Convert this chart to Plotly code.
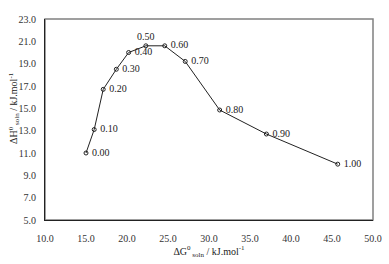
import plotly.graph_objects as go

dG = [15.0, 16.0, 17.1, 18.7, 20.2, 22.3, 24.6, 27.1, 31.3, 37.0, 45.7]
dH = [11.0, 13.1, 16.7, 18.5, 20.0, 20.6, 20.6, 19.2, 14.85, 12.7, 10.0]
labels = ["0.00", "0.10", "0.20", "0.30", "0.40", "0.50", "0.60", "0.70", "0.80", "0.90", "1.00"]
positions = ["middle right"] * 11
positions[5] = "top center"

font = "Liberation Serif, Times New Roman, serif"

fig = go.Figure()
fig.add_trace(go.Scatter(
    x=dG, y=dH, mode="lines+markers+text",
    text=[" " + l if p != "top center" else l for l, p in zip(labels, positions)],
    textposition=positions,
    textfont=dict(family=font, size=10, color="#222"),
    line=dict(color="#222", width=1),
    marker=dict(symbol="circle-open", size=4, color="#222", line=dict(width=1)),
    showlegend=False, cliponaxis=False,
))

fig.add_shape(type="rect", xref="paper", yref="paper", x0=0, y0=0, x1=1, y1=1,
              line=dict(color="#808080", width=1.5), layer="below")

fig.add_annotation(text="ΔH<sup>0</sup><sub> soln</sub> / kJ.mol<sup>-1</sup>",
                   xref="paper", yref="paper", x=-0.093, y=0.56,
                   xanchor="center", yanchor="middle", textangle=-90, showarrow=False,
                   font=dict(family=font, size=10, color="#222"))

fig.update_layout(
    width=389, height=264,
    margin=dict(l=45, r=16, t=19, b=44),
    plot_bgcolor="white", paper_bgcolor="white",
    font=dict(family=font, size=10, color="#333"),
    xaxis=dict(range=[10, 50], tick0=10, dtick=5, tickformat=".1f", showgrid=False, zeroline=False,
               showline=True, linecolor="#222", linewidth=1, ticks="", ticklen=0,
               ticklabelstandoff=9, automargin=False,
               title=dict(text="ΔG<sup>0</sup><sub> soln</sub> / kJ.mol<sup>-1</sup>",
                          font=dict(family=font, size=10, color="#222"), standoff=4),
               tickfont=dict(family=font, size=10, color="#333")),
    yaxis=dict(range=[5, 23], tick0=5, dtick=2, tickformat=".1f", showgrid=False, zeroline=False,
               showline=True, linecolor="#222", linewidth=1, ticks="", ticklen=0,
               ticklabelstandoff=6, automargin=False,
               tickfont=dict(family=font, size=10, color="#333")),
)

fig.write_html("out.html", config={"displayModeBar": False},
               post_script="document.body.style.margin='0';")
